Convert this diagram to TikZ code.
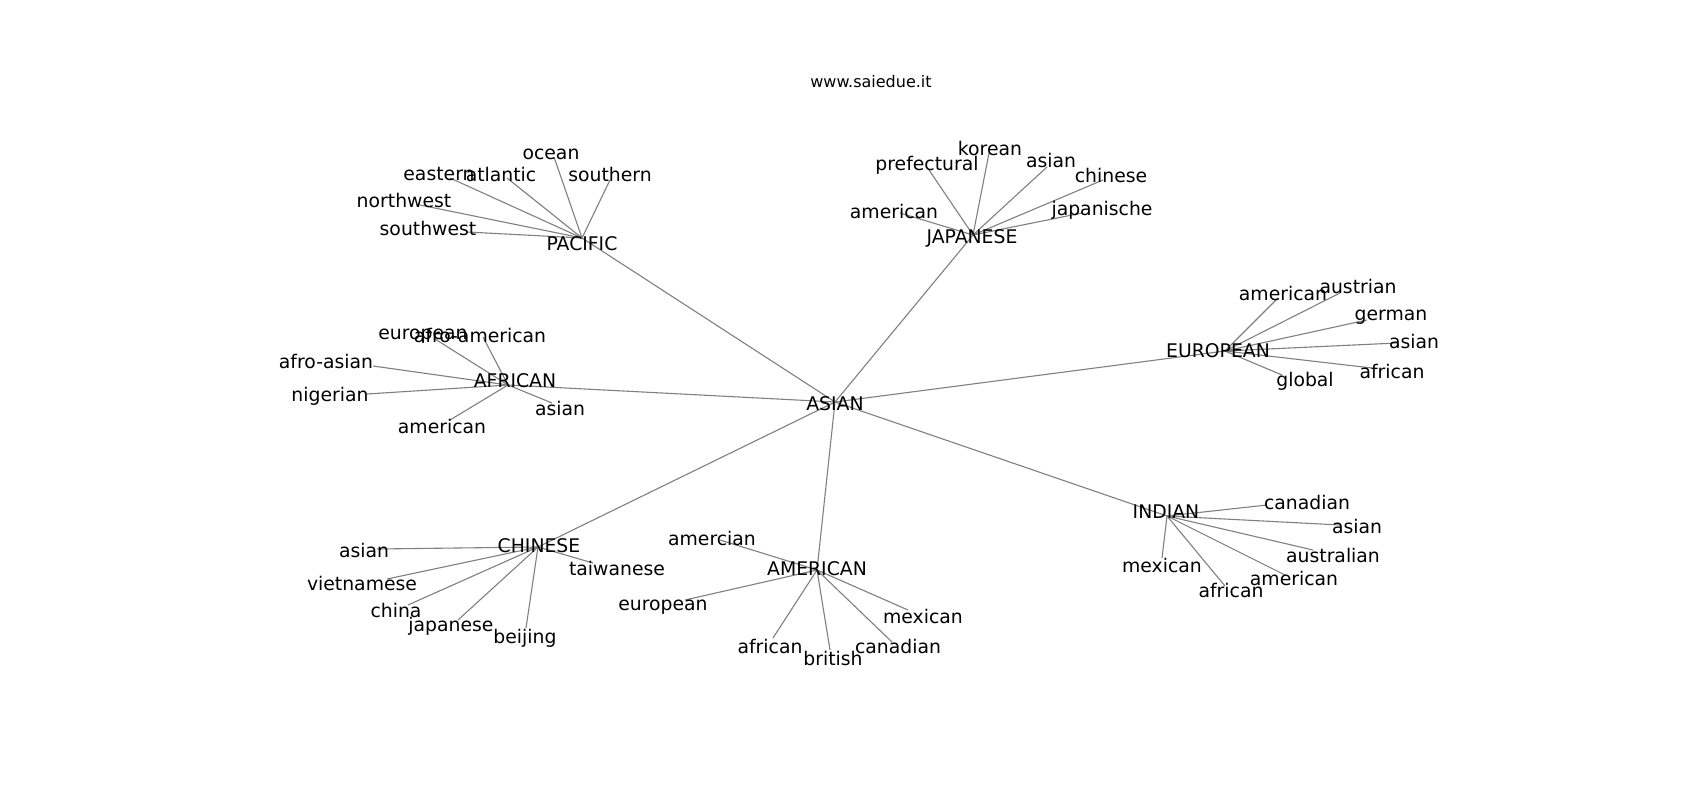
\documentclass[tikz,border=0pt]{standalone}
\usepackage{fontspec}
\setmainfont{DejaVu Sans}
\usetikzlibrary{backgrounds}
\begin{document}
\begin{tikzpicture}[x=1pt,y=-1pt,
  lbl/.style={inner sep=0pt,anchor=base,font=\fontsize{18.8pt}{22pt}\selectfont,text=black},
  ttl/.style={inner sep=0pt,anchor=base,font=\fontsize{16pt}{19pt}\selectfont,text=black},
  edge/.style={draw=black!50,line width=1.1pt}]
\newcommand\nd[4]{\coordinate (#1) at (#2); \node[lbl] (#1L) at (#3) {#4};}
% hubs
\nd{asia}{835,402}{835,410}{ASIAN}
\nd{pac}{582,238}{582,250}{PACIFIC}
\nd{afr}{508,385}{515,387}{AFRICAN}
\nd{jap}{973,235}{972,243}{JAPANESE}
\nd{eur}{1225,351}{1218,357}{EUROPEAN}
\nd{ind}{1167,516}{1166,518}{INDIAN}
\nd{chi}{538,547}{539,552}{CHINESE}
\nd{ame}{817,570}{817,575}{AMERICAN}
% pacific
\nd{p1}{554,157}{551,159}{ocean}
\nd{p2}{450,178}{439,180}{eastern}
\nd{p3}{507,178}{501,181}{atlantic}
\nd{p4}{610,180}{610,181}{southern}
\nd{p5}{420,205}{404,207}{northwest}
\nd{p6}{467,232}{428,235}{southwest}
% african
\nd{a1}{435,339}{423,339}{european}
\nd{a2}{483,337}{480,342}{afro-american}
\nd{a3}{373,366}{326,368}{afro-asian}
\nd{a4}{367,394}{330,401}{nigerian}
\nd{a5}{450,420}{442,433}{american}
\nd{a6}{552,403}{560,415}{asian}
% japanese
\nd{j1}{989,153}{990,155}{korean}
\nd{j2}{929,170}{927,170}{prefectural}
\nd{j3}{1047,167}{1051,167}{asian}
\nd{j4}{1103,180}{1111,182}{chinese}
\nd{j5}{900,213}{894,218}{american}
\nd{j6}{1082,213}{1102,215}{japanische}
% european
\nd{e1}{1278,298}{1283,300}{american}
\nd{e2}{1340,293}{1358,293}{austrian}
\nd{e3}{1367,320}{1391,320}{german}
\nd{e4}{1397,343}{1414,348}{asian}
\nd{e5}{1372,368}{1392,378}{african}
\nd{e6}{1282,375}{1305,386}{global}
% indian
\nd{i1}{1267,505}{1307,509}{canadian}
\nd{i2}{1340,525}{1357,533}{asian}
\nd{i3}{1313,550}{1333,562}{australian}
\nd{i4}{1285,575}{1294,585}{american}
\nd{i5}{1225,586}{1231,597}{african}
\nd{i6}{1162,558}{1162,572}{mexican}
% chinese
\nd{c1}{377,549}{364,557}{asian}
\nd{c2}{387,579}{362,590}{vietnamese}
\nd{c3}{408,605}{396,617}{china}
\nd{c4}{458,620}{451,631}{japanese}
\nd{c5}{526,628}{525,643}{beijing}
\nd{c6}{593,563}{617,575}{taiwanese}
% american
\nd{m1}{720,540}{712,545}{amercian}
\nd{m2}{685,600}{663,610}{european}
\nd{m3}{908,610}{923,623}{mexican}
\nd{m4}{773,638}{770,653}{african}
\nd{m5}{830,650}{833,665}{british}
\nd{m6}{892,642}{898,653}{canadian}
\node[ttl] (title) at (871,88) {www.saiedue.it};
% edges, beneath the labels
\begin{scope}[on background layer]
\fill[white] (0,0) rectangle (1700,800);
\foreach \h in {pac,afr,jap,eur,ind,chi,ame} \draw[edge] (asia) -- (\h);
\foreach \k in {1,...,6} {
  \draw[edge] (pac) -- (p\k);
  \draw[edge] (afr) -- (a\k);
  \draw[edge] (jap) -- (j\k);
  \draw[edge] (eur) -- (e\k);
  \draw[edge] (ind) -- (i\k);
  \draw[edge] (chi) -- (c\k);
  \draw[edge] (ame) -- (m\k);
}
\end{scope}
\useasboundingbox (0,0) rectangle (1700,800);
\end{tikzpicture}
\end{document}
